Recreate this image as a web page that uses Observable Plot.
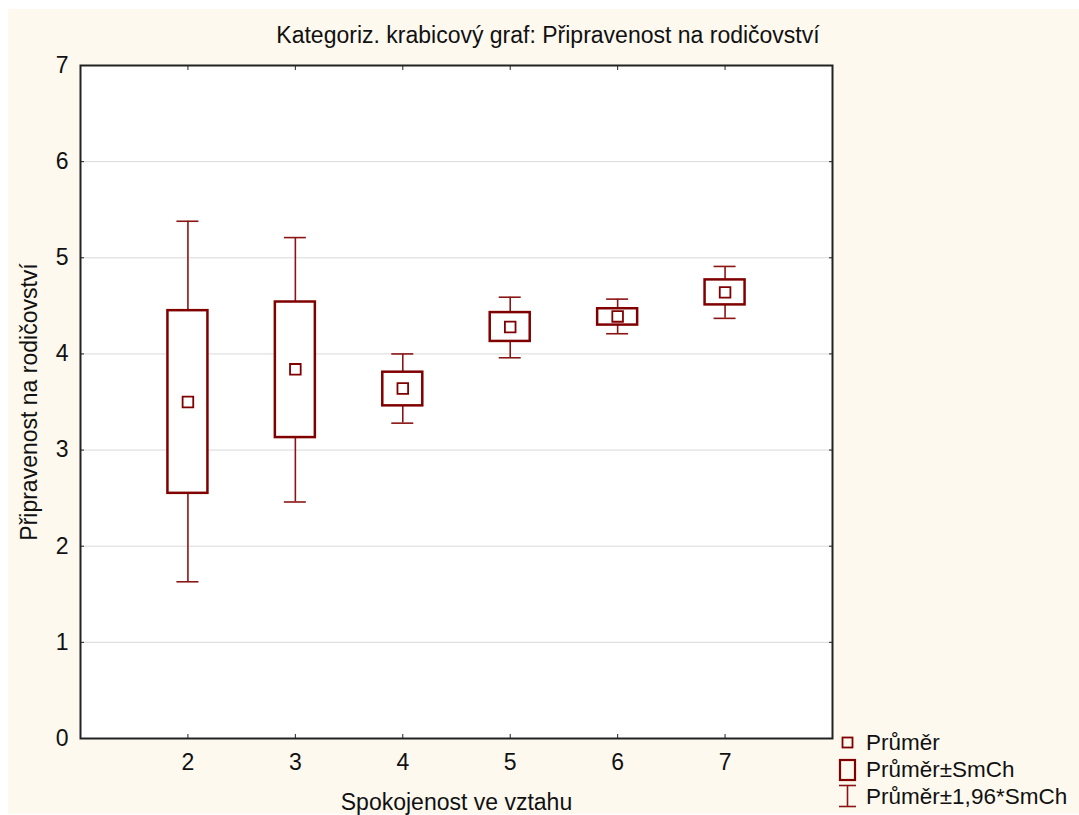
<!DOCTYPE html>
<html>
<head>
<meta charset="utf-8">
<script src="https://cdn.jsdelivr.net/npm/d3@7"></script>
<script src="https://cdn.jsdelivr.net/npm/@observablehq/plot@0.6"></script>
<style>
  body { margin: 0; background: #fff; font-family: "Liberation Sans", Arial, sans-serif; }
  #page { position: relative; width: 1079px; height: 815px; overflow: hidden; background: #fff; }
  #bg { position: absolute; left: 8px; top: 9px; width: 1071px; height: 805px; background: #fdf9ef; }
  #chart { position: absolute; left: 0; top: 0; }
  .title { position: absolute; top: 23.5px; left: 548px; transform: translateX(-50%);
           white-space: nowrap; font-size: 23px; line-height: 23px; color: #111; }
  .legend-text { position: absolute; left: 866px; font-size: 22.5px; line-height: 27px; color: #111; white-space: nowrap; }
  #legend-keys { position: absolute; left: 830px; top: 728px; }
</style>
</head>
<body>
<div id="page">
  <div id="bg"></div>
  <div class="title">Kategoriz. krabicový graf: Připravenost na rodičovství</div>
  <div id="chart"></div>
  <svg id="legend-keys" width="36" height="86">
    <rect x="12.5" y="9.5" width="10" height="10" fill="none" stroke="#800000" stroke-width="1.8"></rect>
    <rect x="10" y="32" width="15" height="20" fill="none" stroke="#800000" stroke-width="2.2"></rect>
    <line x1="9" x2="26" y1="57.5" y2="57.5" stroke="#8b1515" stroke-width="1.6"></line>
    <line x1="17.5" x2="17.5" y1="57.5" y2="78.5" stroke="#8b1515" stroke-width="1.6"></line>
    <line x1="9" x2="26" y1="78.5" y2="78.5" stroke="#8b1515" stroke-width="1.6"></line>
  </svg>
  <div class="legend-text" style="top:728.5px">Průměr</div>
  <div class="legend-text" style="top:755.5px">Průměr±SmCh</div>
  <div class="legend-text" style="top:782.5px">Průměr±1,96*SmCh</div>
</div>
<script>
// Spokojenost ve vztahu (categories) and the summary of Připravenost na rodičovství per category
const categories = [2, 3, 4, 5, 6, 7];
const means  = [3.50, 3.84, 3.64, 4.28, 4.39, 4.64];  // Průměr
const seLow  = [2.55, 3.13, 3.46, 4.13, 4.30, 4.51];  // Průměr − SmCh
const seHigh = [4.45, 4.54, 3.81, 4.43, 4.47, 4.77];  // Průměr + SmCh
const ciLow  = [1.63, 2.46, 3.28, 3.96, 4.21, 4.37];  // Průměr − 1,96*SmCh
const ciHigh = [5.38, 5.21, 4.00, 4.59, 4.57, 4.91];  // Průměr + 1,96*SmCh
const yTicks = [0, 1, 2, 3, 4, 5, 6, 7];
const gridValues = [1, 2, 3, 4, 5, 6];

const rows = categories.map((c, i) => ({
  c, mean: means[i], lo: seLow[i], hi: seHigh[i], wlo: ciLow[i], whi: ciHigh[i]
}));

const boxColor = "#800000";
const whiskerColor = "#8b1515";
const font = "'Liberation Sans', Arial, sans-serif";
const intFormat = (d) => String(d);

const chart = Plot.plot({
  width: 1079,
  height: 815,
  marginLeft: 80,
  marginRight: 247,
  marginTop: 65,
  marginBottom: 77,
  style: { background: "transparent", fontFamily: font, color: "#111", overflow: "visible" },
  x: { type: "linear", domain: [1, 8] },
  y: { domain: [0, 7] },
  marks: [
    Plot.frame({ fill: "white", stroke: "none" }),
    Plot.gridY(gridValues, { stroke: "#d9d9d9", strokeOpacity: 1, strokeWidth: 1 }),
    Plot.axisY(yTicks, { anchor: "left", tickSize: -4, tickPadding: 16, fontSize: 23, tickFormat: intFormat, label: null, stroke: "#222" }),
    Plot.axisY(yTicks, { anchor: "right", tickSize: -4, tickFormat: () => "", label: null, stroke: "#222" }),
    Plot.axisX(categories, { anchor: "bottom", tickSize: -4, tickPadding: 19, fontSize: 23, tickFormat: intFormat, label: null, stroke: "#222" }),
    Plot.axisX(categories, { anchor: "top", tickSize: -4, tickFormat: () => "", label: null, stroke: "#222" }),
    Plot.frame({ stroke: "#222", strokeWidth: 2 }),
    // whiskers: mean ± 1,96*SmCh
    Plot.ruleX(rows, { x: "c", y1: "wlo", y2: "lo", stroke: whiskerColor, strokeWidth: 1.6 }),
    Plot.ruleX(rows, { x: "c", y1: "hi", y2: "whi", stroke: whiskerColor, strokeWidth: 1.6 }),
    Plot.ruleY(rows, { y: "wlo", x1: "c", x2: "c", insetLeft: -11, insetRight: -11, stroke: whiskerColor, strokeWidth: 1.6 }),
    Plot.ruleY(rows, { y: "whi", x1: "c", x2: "c", insetLeft: -11, insetRight: -11, stroke: whiskerColor, strokeWidth: 1.6 }),
    // boxes: mean ± SmCh
    Plot.rect(rows, { x1: "c", x2: "c", y1: "lo", y2: "hi", insetLeft: -20, insetRight: -20,
                      fill: "white", stroke: boxColor, strokeWidth: 2.5 }),
    // mean markers
    Plot.dot(rows, { x: "c", y: "mean", symbol: "square", r: 6, fill: "white", stroke: boxColor, strokeWidth: 1.8 }),
    // axis titles
    Plot.text(["Připravenost na rodičovství"], { frameAnchor: "left", rotate: -90, dx: -51, lineAnchor: "middle",
                                                   textAnchor: "middle", fontSize: 23, fill: "#111", fontFamily: font }),
    Plot.text(["Spokojenost ve vztahu"], { frameAnchor: "bottom", dy: 64, lineAnchor: "middle",
                                            textAnchor: "middle", fontSize: 23, fill: "#111", fontFamily: font })
  ]
});

document.getElementById("chart").append(chart);
</script>
</body>
</html>
